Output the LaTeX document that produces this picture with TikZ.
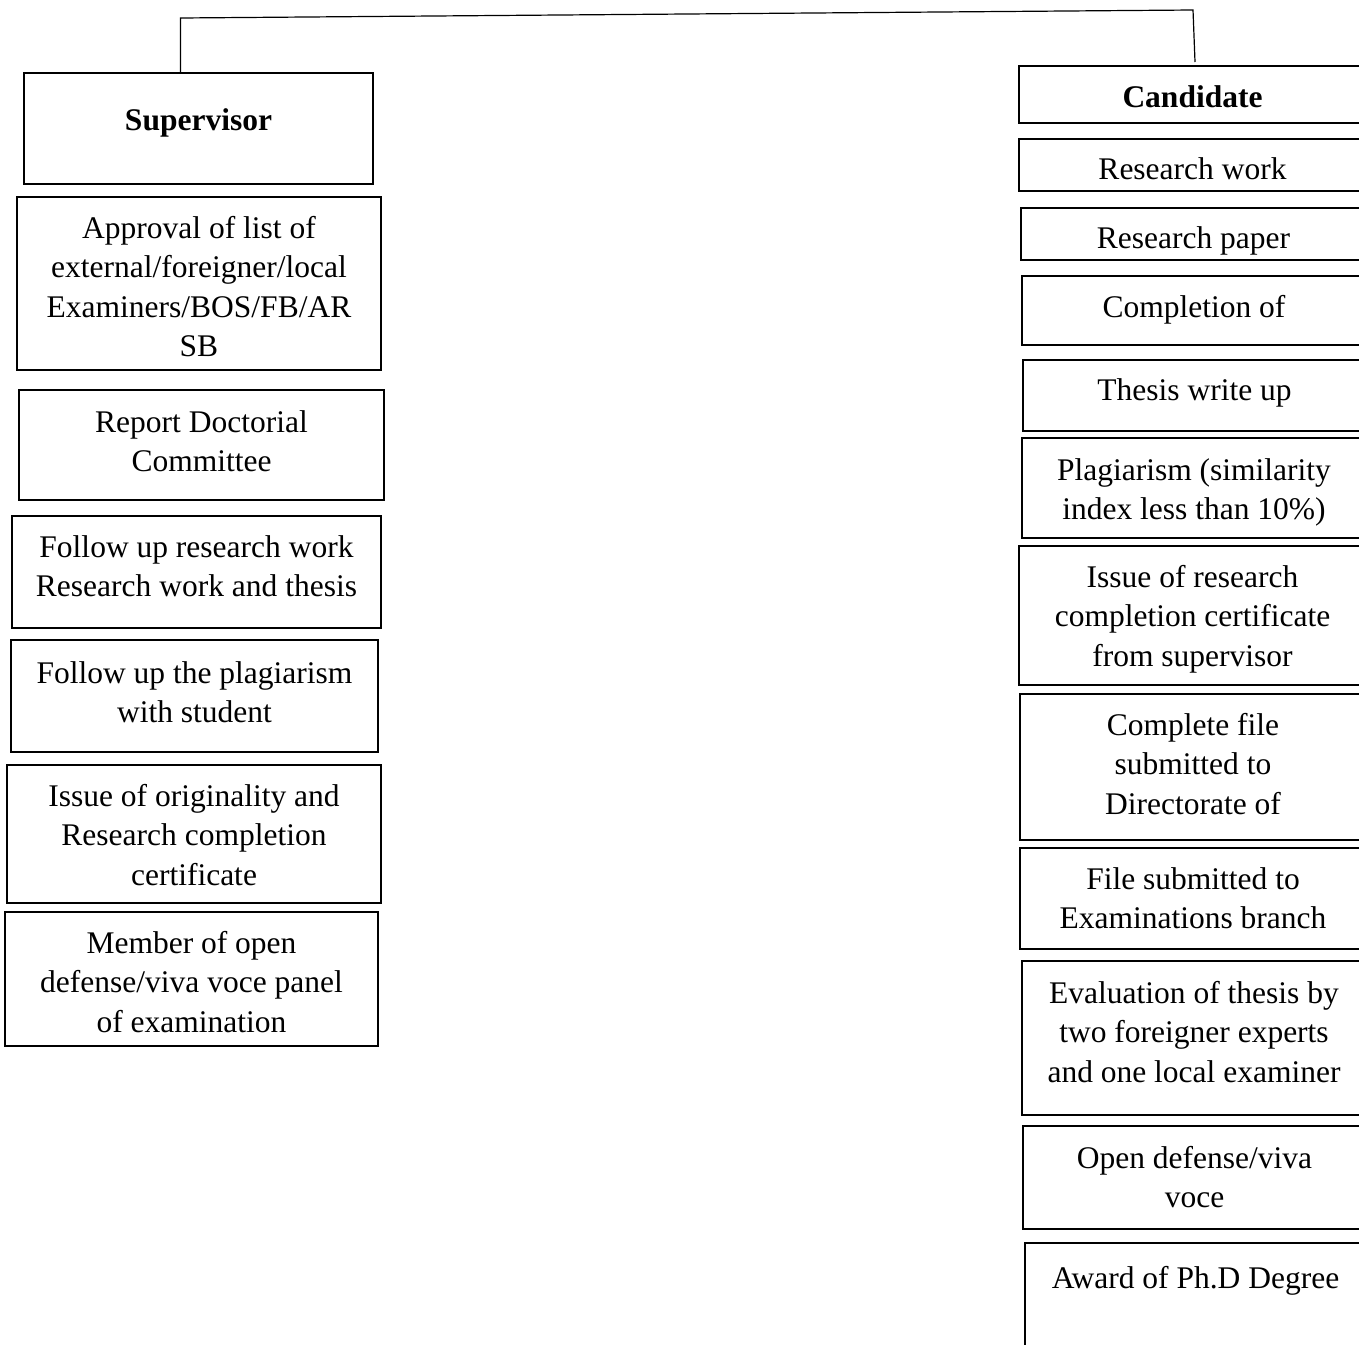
\documentclass[tikz,border=0pt]{standalone}
\usepackage{fontspec}
\setmainfont{Liberation Serif}
\usetikzlibrary{positioning}

\tikzset{
    stepbox/.style={draw, rectangle, line width=2.4pt, anchor=north west,
        inner sep=0pt, outer sep=0pt},
    steptext/.style={anchor=north, align=center, inner sep=0pt,
        font=\fontsize{31.5}{39.5}\selectfont, execute at begin node=\strut},
    link/.style={draw, line width=1.2pt}
}

\begin{document}
\begin{tikzpicture}[x=1pt, y=-1pt]
    \useasboundingbox (0,0) rectangle (1359,1344);

    % supervisor column
    \node[stepbox, minimum width=349pt, minimum height=111pt] (sup) at (24,73) {};
    \node[steptext, below=30pt of sup.north] (supText) {\textbf{Supervisor}};

    \node[stepbox, minimum width=364pt, minimum height=173pt] (appr) at (17,197) {};
    \node[steptext, below=19pt of appr.north] (apprText) {Approval of list of\\external/foreigner/local\\Examiners/BOS/FB/AR\\SB};

    \node[stepbox, minimum width=365pt, minimum height=110pt] (rep) at (19,390) {};
    \node[steptext, below=20pt of rep.north] (repText) {Report Doctorial\\Committee};

    \node[stepbox, minimum width=369pt, minimum height=112pt] (foll) at (12,516) {};
    \node[steptext, below=19pt of foll.north] (follText) {Follow up research work\\Research work and thesis};

    \node[stepbox, minimum width=367pt, minimum height=112pt] (plag) at (11,640) {};
    \node[steptext, below=21pt of plag.north] (plagText) {Follow up the plagiarism\\with student};

    \node[stepbox, minimum width=374pt, minimum height=138pt] (orig) at (7,765) {};
    \node[steptext, below=19pt of orig.north] (origText) {Issue of originality and\\Research completion\\certificate};

    \node[stepbox, minimum width=373pt, minimum height=134pt] (memb) at (5,912) {};
    \node[steptext, below=19pt of memb.north] (membText) {Member of open\\defense/viva voce panel\\of examination};

    % candidate column
    \node[stepbox, minimum width=347pt, minimum height=57pt] (cand) at (1019,66) {};
    \node[steptext, below=14pt of cand.north] (candText) {\textbf{Candidate}};

    \node[stepbox, minimum width=347pt, minimum height=52pt] (work) at (1019,139) {};
    \node[steptext, below=13pt of work.north] (workText) {Research work};

    \node[stepbox, minimum width=345pt, minimum height=52pt] (paper) at (1021,208) {};
    \node[steptext, below=13pt of paper.north] (paperText) {Research paper};

    \node[stepbox, minimum width=344pt, minimum height=69pt] (compl) at (1022,276) {};
    \node[steptext, below=14pt of compl.north] (complText) {Completion of};

    \node[stepbox, minimum width=343pt, minimum height=71pt] (thesis) at (1023,360) {};
    \node[steptext, below=13pt of thesis.north] (thesisText) {Thesis write up};

    \node[stepbox, minimum width=344pt, minimum height=100pt] (simil) at (1022,438) {};
    \node[steptext, below=20pt of simil.north] (similText) {Plagiarism (similarity\\index less than 10\%)};

    \node[stepbox, minimum width=347pt, minimum height=139pt] (cert) at (1019,546) {};
    \node[steptext, below=19pt of cert.north] (certText) {Issue of research\\completion certificate\\from supervisor};

    \node[stepbox, minimum width=346pt, minimum height=146pt] (dir) at (1020,694) {};
    \node[steptext, below=19pt of dir.north] (dirText) {Complete file\\submitted to\\Directorate of};

    \node[stepbox, minimum width=346pt, minimum height=101pt] (exam) at (1020,848) {};
    \node[steptext, below=19pt of exam.north] (examText) {File submitted to\\Examinations branch};

    \node[stepbox, minimum width=344pt, minimum height=154pt] (eval) at (1022,961) {};
    \node[steptext, below=20pt of eval.north] (evalText) {Evaluation of thesis by\\two foreigner experts\\and one local examiner};

    \node[stepbox, minimum width=343pt, minimum height=103pt] (viva) at (1023,1126) {};
    \node[steptext, below=20pt of viva.north] (vivaText) {Open defense/viva\\voce};

    \node[stepbox, minimum width=341pt, minimum height=117pt] (award) at (1025,1243) {};
    \node[steptext, below=18pt of award.north] (awardText) {Award of Ph.D Degree};

    % top connector
    \coordinate (supJoin) at (180.5,18);
    \coordinate (candJoin) at (1193,10);
    \coordinate (candEnd) at (1195,62);
    \draw[link] (supJoin |- sup.north) -- (supJoin) -- (candJoin) -- (candEnd);
\end{tikzpicture}
\end{document}
